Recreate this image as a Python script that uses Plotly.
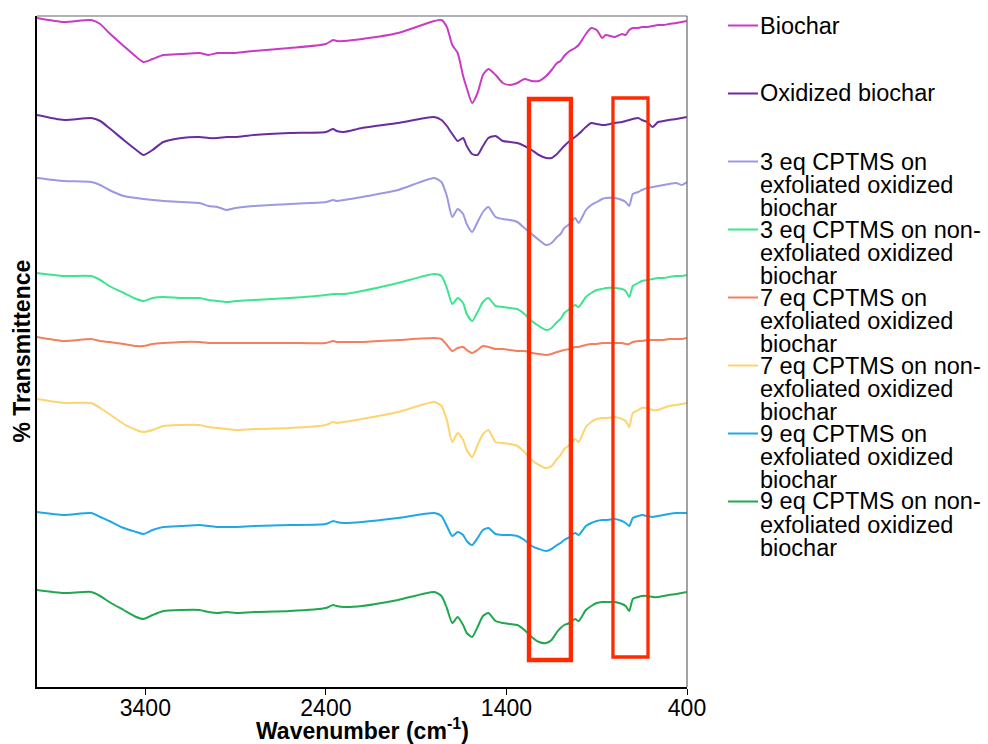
import plotly.graph_objects as go

# ---------------- DATA ----------------
wavenumber = [4000, 3850, 3700, 3650, 3600, 3520, 3450, 3410, 3360, 3300,
              3200, 3100, 3050, 3000, 2950, 2900, 2800, 2600, 2400, 2360,
              2340, 2300, 2200, 2000, 1800, 1760, 1730, 1700, 1670, 1640,
              1620, 1590, 1560, 1530, 1500, 1460, 1420, 1380, 1340, 1300,
              1260, 1220, 1180, 1150, 1120, 1100, 1080, 1050, 1020, 1000,
              960, 930, 900, 870, 850, 800, 760, 740, 720, 700,
              670, 650, 620, 590, 560, 530, 500, 460, 430, 400]

# offset % transmittance (arbitrary stacked units)
biochar = [66.9, 66.5, 66.7, 66.3, 65.4, 64.1, 63.0, 62.5, 62.8, 63.2,
           63.3, 63.4, 63.2, 63.4, 63.4, 63.4, 63.6, 63.9, 64.3, 64.7,
           64.6, 64.6, 64.8, 65.4, 66.6, 66.7, 66.0, 64.2, 63.4, 61.1,
           59.9, 58.4, 59.4, 61.2, 61.8, 61.2, 60.4, 60.2, 60.4, 60.8,
           60.6, 60.6, 61.1, 61.7, 62.4, 62.6, 63.1, 63.6, 63.9, 64.2,
           65.3, 65.9, 65.7, 64.9, 65.2, 65.0, 65.3, 65.2, 65.7, 65.9,
           65.9, 66.0, 66.0, 66.1, 66.2, 66.2, 66.3, 66.4, 66.5, 66.6]

oxidized = [57.2, 56.7, 56.9, 56.6, 55.9, 54.7, 53.7, 53.2, 53.7, 54.5,
            54.9, 55.0, 54.9, 54.9, 55.0, 55.0, 55.2, 55.4, 55.5, 55.8,
            55.6, 55.5, 55.9, 56.4, 57.0, 56.7, 56.1, 55.3, 54.6, 54.9,
            54.1, 53.3, 53.2, 54.1, 54.9, 55.1, 54.6, 54.5, 54.4, 54.1,
            53.7, 53.2, 52.9, 52.9, 53.3, 53.7, 54.1, 54.6, 55.0, 55.3,
            56.0, 56.4, 56.3, 56.2, 56.2, 56.4, 56.5, 56.6, 56.7, 56.8,
            56.9, 56.7, 56.5, 56.0, 56.5, 56.6, 56.7, 56.8, 56.9, 57.0]

eq3_exf = [50.9, 50.6, 50.5, 50.2, 49.7, 49.1, 48.9, 48.8, 48.7, 48.6,
           48.5, 48.4, 48.1, 48.0, 47.7, 47.9, 48.1, 48.3, 48.5, 48.7,
           48.6, 48.7, 49.0, 49.7, 50.9, 50.5, 49.1, 47.0, 47.8, 47.3,
           46.3, 45.5, 46.5, 47.5, 48.0, 47.0, 46.8, 46.7, 46.5, 45.9,
           45.3, 44.7, 44.2, 44.4, 45.0, 45.3, 45.9, 46.3, 46.9, 46.4,
           47.7, 48.2, 48.5, 48.8, 48.9, 48.9, 48.7, 48.5, 48.1, 49.3,
           49.5, 49.7, 49.9, 50.0, 50.1, 50.2, 50.3, 50.4, 50.2, 50.5]

eq3_nonexf = [41.4, 41.1, 41.1, 40.7, 40.1, 39.4, 38.8, 38.6, 38.9, 39.0,
              38.9, 38.9, 38.7, 38.6, 38.5, 38.6, 38.7, 38.9, 39.2, 39.3,
              39.3, 39.3, 39.6, 40.4, 41.3, 41.1, 39.9, 38.3, 38.9, 38.4,
              37.3, 36.6, 37.5, 38.5, 38.9, 38.1, 38.0, 37.9, 37.8, 37.3,
              36.6, 36.1, 35.7, 35.9, 36.5, 36.8, 37.4, 37.8, 38.2, 38.0,
              39.0, 39.4, 39.7, 39.8, 39.9, 39.9, 39.8, 39.6, 39.0, 40.1,
              40.4, 40.6, 40.7, 40.8, 40.9, 40.9, 41.0, 41.1, 41.1, 41.2]

eq7_exf = [35.0, 34.6, 34.8, 34.6, 34.5, 34.3, 34.1, 34.1, 34.3, 34.4,
           34.5, 34.5, 34.4, 34.4, 34.4, 34.4, 34.4, 34.4, 34.4, 34.6,
           34.5, 34.5, 34.5, 34.7, 34.9, 34.8, 34.2, 33.6, 33.9, 34.0,
           33.7, 33.4, 33.7, 34.1, 34.0, 33.8, 33.8, 33.7, 33.6, 33.6,
           33.4, 33.3, 33.2, 33.3, 33.5, 33.6, 33.7, 33.8, 34.0, 34.0,
           34.2, 34.3, 34.3, 34.4, 34.4, 34.4, 34.4, 34.3, 34.3, 34.5,
           34.6, 34.6, 34.7, 34.7, 34.7, 34.7, 34.8, 34.8, 34.8, 34.9]

eq7_nonexf = [28.8, 28.4, 28.4, 27.9, 27.3, 26.3, 25.7, 25.5, 25.7, 26.1,
              26.2, 26.2, 26.0, 25.9, 25.8, 25.7, 25.8, 25.9, 26.2, 26.5,
              26.4, 26.5, 26.8, 27.5, 28.5, 28.1, 26.7, 24.5, 25.4, 24.7,
              23.7, 23.0, 24.2, 25.3, 25.7, 24.5, 24.4, 24.3, 24.1, 23.5,
              22.7, 22.2, 21.9, 22.1, 22.8, 23.2, 23.8, 24.2, 24.8, 24.5,
              26.0, 26.5, 26.8, 26.9, 26.9, 27.0, 26.8, 26.6, 26.0, 27.4,
              27.7, 27.9, 27.9, 27.7, 27.7, 27.9, 28.1, 28.2, 28.3, 28.4]

eq9_exf = [17.5, 17.2, 17.4, 17.0, 16.6, 15.9, 15.5, 15.3, 15.7, 16.0,
           16.1, 16.2, 16.1, 16.0, 16.0, 16.0, 16.1, 16.2, 16.3, 16.6,
           16.5, 16.4, 16.5, 16.9, 17.4, 17.1, 16.1, 15.1, 15.5, 15.2,
           14.6, 14.2, 14.9, 15.7, 15.9, 15.3, 15.2, 15.2, 15.1, 14.7,
           14.1, 13.8, 13.6, 13.8, 14.2, 14.4, 14.7, 15.0, 15.4, 15.2,
           16.1, 16.4, 16.6, 16.7, 16.7, 16.8, 16.6, 16.4, 16.1, 16.9,
           17.1, 17.2, 17.1, 17.0, 17.1, 17.2, 17.3, 17.4, 17.4, 17.4]

eq9_nonexf = [9.7, 9.4, 9.5, 9.1, 8.5, 7.7, 7.0, 6.8, 7.2, 7.6,
              7.7, 7.7, 7.5, 7.4, 7.5, 7.4, 7.5, 7.6, 7.9, 8.2,
              8.1, 8.0, 8.1, 8.7, 9.5, 9.1, 7.9, 6.4, 7.0, 6.2,
              5.4, 5.0, 6.0, 7.1, 7.4, 6.6, 6.4, 6.3, 6.2, 5.7,
              5.0, 4.5, 4.4, 4.7, 5.5, 5.9, 6.2, 6.4, 6.8, 6.6,
              7.7, 8.1, 8.4, 8.5, 8.5, 8.5, 8.3, 8.1, 7.6, 8.8,
              9.0, 9.1, 9.1, 9.0, 9.0, 9.1, 9.2, 9.3, 9.4, 9.5]

series_labels = [
    ["Biochar"],
    ["Oxidized biochar"],
    ["3 eq CPTMS on", "exfoliated oxidized", "biochar"],
    ["3 eq CPTMS on non-", "exfoliated oxidized", "biochar"],
    ["7 eq CPTMS on", "exfoliated oxidized", "biochar"],
    ["7 eq CPTMS on non-", "exfoliated oxidized", "biochar"],
    ["9 eq CPTMS on", "exfoliated oxidized", "biochar"],
    ["9 eq CPTMS on non-", "exfoliated oxidized", "biochar"],
]
series_values = [biochar, oxidized, eq3_exf, eq3_nonexf,
                 eq7_exf, eq7_nonexf, eq9_exf, eq9_nonexf]
series_colors = ["#C93BC4", "#6A2D9E", "#9C98E2", "#3FE58E",
                 "#F47E5E", "#FDD46E", "#1EA8E6", "#1FA84E"]

x_ticks = [3400, 2400, 1400, 400]
x_range = [4000, 400]
y_range = [0, 67.1]
x_title = "<b>Wavenumber (cm<sup>-1</sup>)</b>"
y_title = "<b>% Transmittence</b>"

# highlighted regions (wavenumber span, transmittance span)
highlight_boxes = [
    {"wn": [1275, 1043], "t": [2.7, 58.8], "width": 4.4},
    {"wn": [810, 616], "t": [3.0, 58.9], "width": 3.3},
]

# ---------------- FIGURE ----------------
FONT = "Arial, Liberation Sans, Helvetica, sans-serif"
fig = go.Figure()
for lab, vals, col in zip(series_labels, series_values, series_colors):
    fig.add_trace(go.Scatter(x=wavenumber, y=vals, mode="lines",
                             name=" ".join(lab).replace("- ", "-"),
                             line=dict(color=col, width=2, shape="spline",
                                       smoothing=0.6),
                             showlegend=False))

for b in highlight_boxes:
    fig.add_shape(type="rect", xref="x", yref="y",
                  x0=b["wn"][0], x1=b["wn"][1], y0=b["t"][0], y1=b["t"][1],
                  line=dict(color="#FF2A00", width=b["width"]),
                  fillcolor="rgba(0,0,0,0)")

# layout geometry (pixels of the 988x744 page)
PL, PR, PT, PB = 37, 687, 16, 687
W, H = PR - PL, PB - PT


def pxx(px):
    return (px - PL) / W


def pxy(py):
    return (PB - py) / H


# frame top / right (grey)
fig.add_shape(type="line", xref="paper", yref="paper", x0=0, x1=1, y0=1, y1=1,
              line=dict(color="#666666", width=1.2))
fig.add_shape(type="line", xref="paper", yref="paper", x0=1, x1=1, y0=0, y1=1,
              line=dict(color="#666666", width=1.2))

# axis titles
fig.add_annotation(xref="paper", yref="paper", x=0.5, y=pxy(729),
                   text=x_title, showarrow=False, xanchor="center",
                   yanchor="middle", borderpad=0,
                   font=dict(family=FONT, size=23, color="black"))
fig.add_annotation(xref="paper", yref="paper", x=pxx(21), y=0.5,
                   text=y_title, showarrow=False, textangle=-90,
                   xanchor="center", yanchor="middle", borderpad=0,
                   font=dict(family=FONT, size=23, color="black"))

# custom legend (tight line spacing like the reference)
LEG_FIRST = 25.5
ENTRY_STEP = 68.0
LINE_STEP = 23.3
for i, (lab, col) in enumerate(zip(series_labels, series_colors)):
    y0 = LEG_FIRST + i * ENTRY_STEP
    fig.add_shape(type="line", xref="paper", yref="paper",
                  x0=pxx(728), x1=pxx(758), y0=pxy(y0), y1=pxy(y0),
                  line=dict(color=col, width=2))
    for j, line in enumerate(lab):
        fig.add_annotation(xref="paper", yref="paper", x=pxx(759),
                           y=pxy(y0 + j * LINE_STEP), text=line,
                           showarrow=False, xanchor="left", yanchor="middle",
                           borderpad=0,
                           font=dict(family=FONT, size=23.5, color="black"))

fig.update_layout(
    width=988, height=744,
    margin=dict(l=PL, r=988 - PR, t=PT, b=744 - PB, autoexpand=False),
    plot_bgcolor="white", paper_bgcolor="white",
    font=dict(family=FONT, color="black"),
    xaxis=dict(range=x_range, tickvals=x_ticks,
               ticktext=[str(v) for v in x_ticks],
               ticks="outside", ticklen=6, tickwidth=1.2, tickcolor="black",
               ticklabelstandoff=-6,
               showline=True, linecolor="black", linewidth=1.5,
               showgrid=False, zeroline=False, automargin=False,
               tickfont=dict(family=FONT, size=23, color="black")),
    yaxis=dict(range=y_range, showticklabels=False, ticks="",
               showline=True, linecolor="black", linewidth=1.5,
               showgrid=False, zeroline=False, automargin=False),
)

fig.write_html("out.html")
